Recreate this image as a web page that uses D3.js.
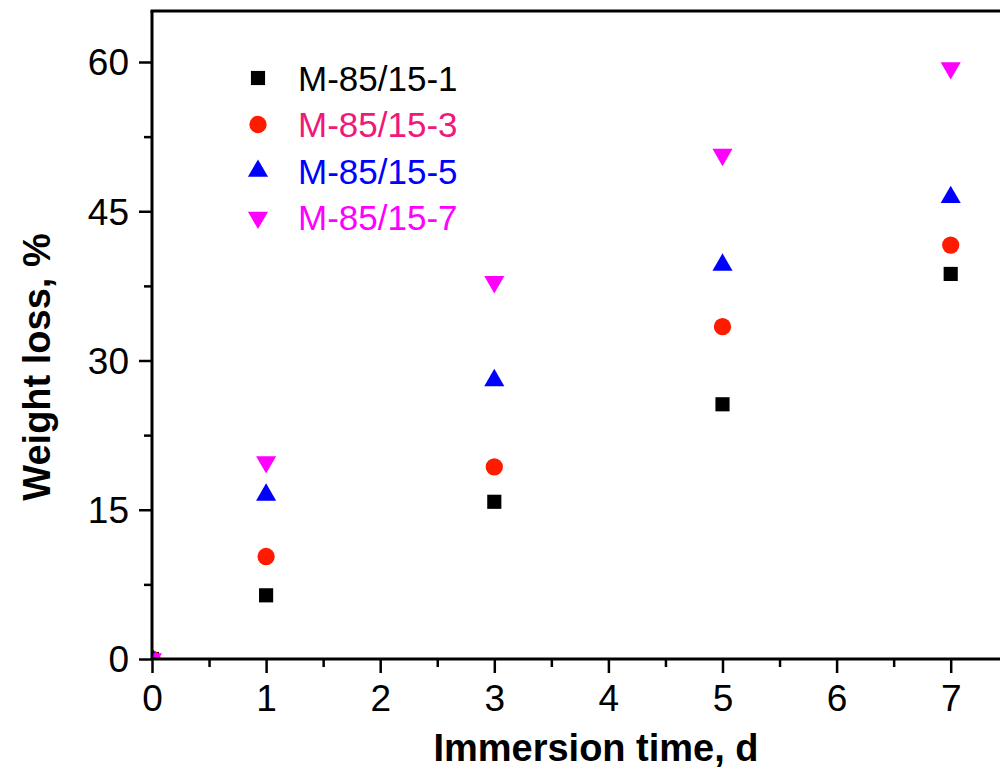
<!DOCTYPE html>
<html>
<head>
<meta charset="utf-8">
<script src="https://cdn.jsdelivr.net/npm/d3@7"></script>
<style>
  body { margin: 0; background: #fff; }
  svg { display: block; font-family: "Liberation Sans", Arial, sans-serif; }
</style>
</head>
<body>
<script>
// data
var days = [0, 1, 3, 5, 7];
var s1 = [0, 6.4, 15.8, 25.6, 38.7];
var s3 = [0, 10.3, 19.3, 33.4, 41.6];
var s5 = [0, 16.5, 28.0, 39.6, 46.4];
var s7 = [0, 19.8, 37.9, 50.7, 59.4];
var seriesNames = ["M-85/15-1", "M-85/15-3", "M-85/15-5", "M-85/15-7"];
var xTicks = [0, 1, 2, 3, 4, 5, 6, 7];
var yTicks = [0, 15, 30, 45, 60];

var width = 1000, height = 772;
var padL = 152, padB = 659, padT = 11;

var series = [
  {name: seriesNames[0], vals: s1, shape: d3.symbolSquare, size: 200, fill: "#000000", text: "#000000"},
  {name: seriesNames[1], vals: s3, shape: d3.symbolCircle, size: 235, fill: "#ff1a00", text: "#f0187a"},
  {name: seriesNames[2], vals: s5, shape: d3.symbolTriangle, size: 175, fill: "#0000ff", text: "#0000ff"},
  {name: seriesNames[3], vals: s7, shape: d3.symbolTriangle, size: 175, fill: "#ff00ff", text: "#ff00ff", flip: true}
];

var x = d3.scaleLinear().domain([0, 7.5]).range([padL, padL + 7.5 * 114.1]);
var y = d3.scaleLinear().domain([0, 60]).range([padB, 62]);

var svg = d3.select("body").append("svg")
    .attr("width", width)
    .attr("height", height);

svg.append("defs").append("clipPath").attr("id", "plot")
  .append("rect")
    .attr("x", padL).attr("y", padT)
    .attr("width", width - padL).attr("height", padB - padT);

// points
var pts = svg.append("g").attr("clip-path", "url(#plot)");
series.forEach(function(s) {
  pts.selectAll(null)
    .data(s.vals)
    .enter().append("path")
      .attr("d", d3.symbol().type(s.shape).size(s.size))
      .attr("transform", function(d, i) {
        return "translate(" + x(days[i]) + "," + y(d) + ")" + (s.flip ? " rotate(180)" : "");
      })
      .attr("fill", s.fill);
});

// minor ticks
var xMinor = d3.range(0.5, 7.5, 1);
var yMinor = [7.5, 22.5, 37.5, 52.5];

var xAxis = svg.append("g")
    .attr("transform", "translate(0," + padB + ")")
    .call(d3.axisBottom(x).tickValues(xTicks).tickSize(14).tickPadding(12).tickSizeOuter(0));
svg.append("g")
    .attr("transform", "translate(0," + padB + ")")
    .call(d3.axisBottom(x).tickValues(xMinor).tickSize(8).tickFormat("").tickSizeOuter(0));

var yAxis = svg.append("g")
    .attr("transform", "translate(" + padL + ",0)")
    .call(d3.axisLeft(y).tickValues(yTicks).tickSize(13).tickPadding(10).tickSizeOuter(0));
svg.append("g")
    .attr("transform", "translate(" + padL + ",0)")
    .call(d3.axisLeft(y).tickValues(yMinor).tickSize(8).tickFormat("").tickSizeOuter(0));

svg.selectAll(".tick line").attr("stroke", "#000").attr("stroke-width", 2.5);
svg.selectAll(".tick text").attr("font-size", 37).attr("fill", "#000")
    .attr("font-family", "Liberation Sans, Arial, sans-serif");
xAxis.selectAll(".tick text").attr("dy", "0.71em");
yAxis.selectAll(".tick text").attr("dy", "0.35em");

// axis lines drawn by hand so they run to the image edge
svg.selectAll(".domain").remove();
svg.append("line").attr("x1", padL).attr("x2", width).attr("y1", padB).attr("y2", padB)
  .attr("stroke", "#000").attr("stroke-width", 3);
svg.append("line").attr("x1", padL).attr("x2", padL).attr("y1", padT).attr("y2", padB)
  .attr("stroke", "#000").attr("stroke-width", 3);
svg.append("line").attr("x1", padL - 1.5).attr("x2", width).attr("y1", padT).attr("y2", padT)
  .attr("stroke", "#000").attr("stroke-width", 3);

// axis titles
svg.append("text")
    .attr("x", 596).attr("y", 761)
    .attr("text-anchor", "middle")
    .attr("font-size", 38).attr("font-weight", "bold")
    .text("Immersion time, d");

svg.append("text")
    .attr("transform", "translate(50,367) rotate(-90)")
    .attr("text-anchor", "middle")
    .attr("font-size", 38).attr("font-weight", "bold")
    .text("Weight loss, %");

// legend
var legend = svg.append("g");
series.forEach(function(s, i) {
  var ly = 78 + i * 46.5;
  legend.append("path")
    .attr("d", d3.symbol().type(s.shape).size(s.size))
    .attr("transform", "translate(258," + ly + ")" + (s.flip ? " rotate(180)" : ""))
    .attr("fill", s.fill);
  legend.append("text")
    .attr("x", 298).attr("y", ly)
    .attr("dy", "0.36em")
    .attr("font-size", 35)
    .attr("fill", s.text)
    .text(s.name);
});
</script>
</body>
</html>
